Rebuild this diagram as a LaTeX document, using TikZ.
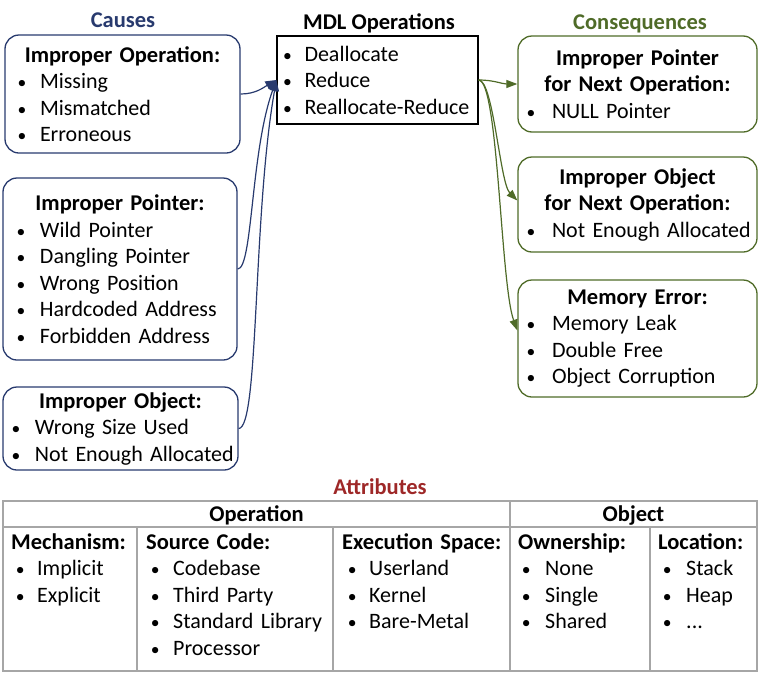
\documentclass[tikz,border=0pt]{standalone}
\usepackage{fontspec}
\setmainfont{Carlito}
\usetikzlibrary{arrows.meta}
\definecolor{causeblue}{RGB}{40,58,110}
\definecolor{consgreen}{RGB}{79,107,40}
\definecolor{attrred}{RGB}{158,40,40}
\definecolor{gridgray}{RGB}{166,166,166}
\def\bulind{9pt}
\def\bulw{18pt}
\newcommand{\itm}[1]{\makebox[\linewidth][l]{\hspace*{\bulind}\makebox[0pt]{\scalebox{0.8}{\textbullet}}\hspace*{\bulw}#1}}
\newcommand{\hd}[1]{{\fontsize{22.5}{26.5}\selectfont\bfseries #1}}

\begin{document}
\begin{tikzpicture}[x=1pt,y=-1pt,
  every node/.style={font=\fontsize{22}{26.5}\selectfont},
  bul/.style 2 args={execute at begin node={\def\bulind{#1}\def\bulw{#2}}},
  head/.style={font=\fontsize{22.5}{26.5}\selectfont\bfseries,anchor=base},
  rbox/.style={draw,line width=1.3pt,rounded corners=14pt,inner ysep=0pt,align=center},
  cause/.style={rbox,draw=causeblue,inner xsep=13pt},
  cons/.style={rbox,draw=consgreen,inner xsep=10pt,minimum width=239pt,text width=219pt,bul={3pt}{21pt}},
  cell/.style={anchor=base west,inner sep=0pt,align=left},
  grid/.style={draw=gridgray,line width=1.4pt},
  causearr/.style={draw=causeblue,line width=1.2pt,-{Triangle[length=11pt,width=9pt]}},
  consarr/.style={draw=consgreen,line width=1.2pt,-{Triangle[length=11pt,width=8pt]}}]
  \useasboundingbox (0,0) rectangle (762,675);
  % column titles
  \node[head,text=causeblue] (causes) at (123,27) {Causes};
  \node[head] (mdltitle) at (379,29) {MDL Operations};
  \node[head,text=consgreen] (conseq) at (640,29) {Consequences};
  \node[head,text=attrred] (attr) at (380,494) {Attributes};
  % causes
  \node[cause,bul={4pt}{18pt},minimum height=118pt,text width=209pt] (imop) at (122.5,94)
    {\hd{Improper Operation:}\\\itm{Missing}\\\itm{Mismatched}\\\itm{Erroneous}};
  \node[cause,bul={5pt}{19pt},minimum height=182pt,text width=208pt] (imptr) at (120,269)
    {\hd{Improper Pointer:}\\\itm{Wild Pointer}\\\itm{Dangling Pointer}\\\itm{Wrong Position}\\\itm{Hardcoded Address}\\\itm{Forbidden Address}};
  \node[cause,bul={4pt}{19pt},inner xsep=9pt,minimum height=83pt,text width=217pt] (imobj) at (120.5,428.5)
    {\hd{Improper Object:}\\\itm{Wrong Size Used}\\\itm{Not Enough Allocated}};
  % operations
  \node[draw,line width=1.2pt,inner xsep=9pt,inner ysep=0pt,minimum height=88pt,text width=183pt,align=left,
    bul={1.5pt}{17pt}] (mdl) at (377.5,80)
    {\itm{Deallocate}\\\itm{Reduce}\\\itm{Reallocate-Reduce}};
  % consequences
  \node[cons,minimum height=96pt] (nxtptr) at (637.5,84)
    {\hd{Improper Pointer}\\\hd{for Next Operation:}\\\itm{NULL Pointer}};
  \node[cons,minimum height=95pt] (nxtobj) at (637.5,204.5)
    {\hd{Improper Object}\\\hd{for Next Operation:}\\\itm{Not Enough Allocated}};
  \node[cons,minimum height=117pt] (memerr) at (637.5,338.5)
    {\hd{Memory Error:}\\\itm{Memory Leak}\\\itm{Double Free}\\\itm{Object Corruption}};
  % connectors
  \draw[causearr] (imop.east) to[out=0,in=210] (mdl.west);
  \draw[causearr] (imptr.east) to[out=0,in=250,out looseness=0.2] (mdl.west);
  \draw[causearr] (imobj.east) to[out=0,in=260,out looseness=0.15] (mdl.west);
  \draw[consarr] (mdl.east) to[out=0,in=180] (nxtptr.west);
  \draw[consarr] (mdl.east) to[out=0,in=135,out looseness=0.3,in looseness=0.5] ([yshift=4pt]nxtobj.west);
  \draw[consarr] (mdl.east) to[out=0,in=110,out looseness=0.2,in looseness=0.5] ([yshift=8pt]memerr.west);
  % attributes table
  \draw[grid] (3,501) rectangle (757,671);
  \draw[grid] (3,527) -- (757,527);
  \draw[grid] (510,501) -- (510,671);
  \foreach \x in {137,333,650} \draw[grid] (\x,527) -- (\x,671);
  \node[head] (oper) at (256.5,521) {Operation};
  \node[head] (obj) at (633.5,521) {Object};
  \node[cell,text width=124pt,bul={9pt}{17pt}] (mech) at (11,549)
    {\hd{Mechanism:}\\\itm{Implicit}\\\itm{Explicit}};
  \node[cell,text width=186pt] (src) at (146,549)
    {\hd{Source Code:}\\\itm{Codebase}\\\itm{Third Party}\\\itm{Standard Library}\\\itm{Processor}};
  \node[cell,text width=170pt,bul={10pt}{17pt}] (exec) at (342,549)
    {\hd{Execution Space:}\\\itm{Userland}\\\itm{Kernel}\\\itm{Bare-Metal}};
  \node[cell,text width=132pt,bul={8pt}{19pt}] (own) at (518,549)
    {\hd{Ownership:}\\\itm{None}\\\itm{Single}\\\itm{Shared}};
  \node[cell,text width=100pt,bul={9pt}{19pt}] (loc) at (658,549)
    {\hd{Location:}\\\itm{Stack}\\\itm{Heap}\\\itm{...}};
\end{tikzpicture}
\end{document}
